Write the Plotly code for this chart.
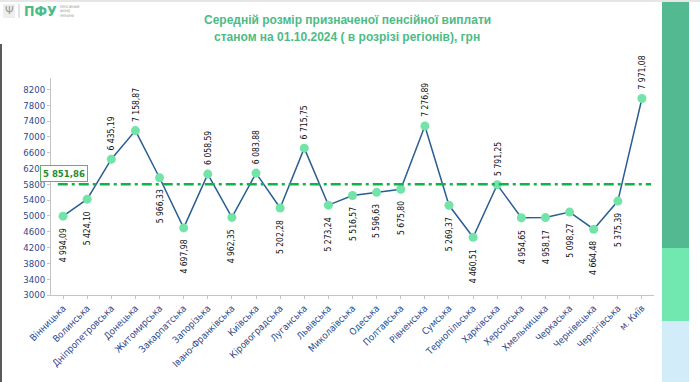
import plotly.graph_objects as go

# ---------------- data ----------------
regions = ["Вінницька", "Волинська", "Дніпропетровська", "Донецька", "Житомирська",
           "Закарпатська", "Запорізька", "Івано-Франківська", "Київська", "Кіровоградська",
           "Луганська", "Львівська", "Миколаївська", "Одеська", "Полтавська",
           "Рівненська", "Сумська", "Тернопільська", "Харківська", "Херсонська",
           "Хмельницька", "Черкаська", "Чернівецька", "Чернігівська", "м. Київ"]
pension = [4994.09, 5424.10, 6435.19, 7158.87, 5966.33,
           4697.98, 6058.59, 4962.35, 6083.88, 5202.28,
           6715.75, 5273.24, 5516.57, 5596.63, 5675.80,
           7276.89, 5269.37, 4460.51, 5791.25, 4954.65,
           4958.17, 5098.27, 4664.48, 5375.39, 7971.08]
# label placement as in the original: True = above the point
label_above = [False, False, True, True, False,
               False, True, False, True, False,
               True, False, False, False, False,
               True, False, False, True, False,
               False, False, False, False, True]
average_value = 5851.86      # value printed in the box
average_line_level = 5800    # level at which the dash-dot line is drawn in the picture
y_ticks = list(range(3000, 8201, 400))

title_lines = ["Середній розмір призначеної пенсійної виплати",
               "станом на 01.10.2024 ( в розрізі регіонів), грн"]
logo_small_lines = ["ПЕНСІЙНИЙ", "ФОНД", "УКРАЇНИ"]


def ua_num(v):
    s = f"{v:,.2f}"
    return s.replace(",", " ").replace(".", ",")


# ---------------- geometry helpers (pixel -> paper) ----------------
W, H = 700, 382
L, R, T, B = 51, 654, 78, 295


def px(x):
    return (x - L) / (R - L)


def py(y):
    return (B - y) / (B - T)


COND = "DejaVu Sans Condensed, Liberation Sans Narrow, Arial Narrow, Liberation Sans, Arial"

fig = go.Figure()
fig.add_trace(go.Scatter(
    x=list(range(len(regions))), y=pension, mode="lines+markers",
    line=dict(color="#2b5e94", width=1.5),
    marker=dict(size=9, color="#72e4a8", line=dict(width=0)),
    hoverinfo="skip", showlegend=False,
))

annotations = []
for i, (v, up) in enumerate(zip(pension, label_above)):
    annotations.append(dict(
        x=i, y=v, xref="x", yref="y", text=ua_num(v), showarrow=False,
        textangle=-90, font=dict(family=COND, size=8.5, color="#111111"),
        xanchor="center", yanchor="bottom" if up else "top",
        yshift=7 if up else -10,
    ))

# average label box
annotations.append(dict(
    x=px(64), y=py(173), xref="paper", yref="paper", text="<b>" + ua_num(average_value) + "</b>",
    showarrow=False, font=dict(family=COND, size=9.5, color="#1f8a33"),
    bgcolor="white", bordercolor="#5cb85c", borderwidth=1, borderpad=2,
    xanchor="center", yanchor="middle",
))

# title
for k, t in enumerate(title_lines):
    annotations.append(dict(
        x=px(347), y=py(20 + 17 * k), xref="paper", yref="paper", text="<b>" + t + "</b>",
        showarrow=False, font=dict(family="Liberation Sans, Arial", size=12, color="#4dbb85"),
        xanchor="center", yanchor="middle",
    ))

# logo
annotations.append(dict(x=px(22), y=py(11), xref="paper", yref="paper", text="<b>ПФУ</b>",
                        showarrow=False, font=dict(family=COND, size=14, color="#4cbb85"),
                        xanchor="left", yanchor="middle"))
annotations.append(dict(x=px(9), y=py(11), xref="paper", yref="paper", text="Ψ",
                        showarrow=False, font=dict(family="DejaVu Sans", size=11, color="#9a9a9a"),
                        xanchor="center", yanchor="middle"))
for k, t in enumerate(logo_small_lines):
    annotations.append(dict(x=px(58), y=py(6 + 5 * k), xref="paper", yref="paper", text=t,
                            showarrow=False, align="left",
                            font=dict(family=COND, size=3.5, color="#909090"),
                            xanchor="left", yanchor="middle"))

shapes = [
    # average dash-dot line
    dict(type="line", xref="x", yref="y", x0=-0.22, x1=24.38,
         y0=average_line_level, y1=average_line_level,
         line=dict(color="#0db44a", width=2.5, dash="10px,4px,3px,4px")),
    # right side decorative bars
    dict(type="rect", xref="paper", yref="paper", x0=px(662), x1=px(689), y0=py(248), y1=py(0),
         fillcolor="#52b991", line=dict(width=0), layer="below"),
    dict(type="rect", xref="paper", yref="paper", x0=px(662), x1=px(689), y0=py(321), y1=py(248),
         fillcolor="#72e8b1", line=dict(width=0), layer="below"),
    dict(type="rect", xref="paper", yref="paper", x0=px(662), x1=px(689), y0=py(382), y1=py(321),
         fillcolor="#d2edf9", line=dict(width=0), layer="below"),
    # left dark edge and top light edge
    dict(type="rect", xref="paper", yref="paper", x0=px(0), x1=px(2), y0=py(382), y1=py(44),
         fillcolor="#5a5a5a", line=dict(width=0), layer="below"),
    dict(type="rect", xref="paper", yref="paper", x0=px(0), x1=px(700), y0=py(2), y1=py(0),
         fillcolor="#e6e6e6", line=dict(width=0), layer="below"),
    # logo emblem box and separator
    dict(type="rect", xref="paper", yref="paper", x0=px(3), x1=px(15), y0=py(18), y1=py(4),
         fillcolor="#eeeeee", line=dict(width=0), layer="below"),
    dict(type="line", xref="paper", yref="paper", x0=px(19), x1=px(19), y0=py(18), y1=py(4),
         line=dict(color="#c8c8c8", width=1)),
]

fig.update_layout(
    width=W, height=H,
    margin=dict(l=L, r=W - R, t=T, b=H - B, pad=0),
    paper_bgcolor="white", plot_bgcolor="white",
    annotations=annotations, shapes=shapes,
    xaxis=dict(
        tickmode="array", tickvals=list(range(len(regions))), ticktext=regions,
        range=[-0.5, len(regions) - 0.5], tickangle=-45,
        tickfont=dict(family=COND, size=9.5, color="#2c4a8c"),
        showgrid=False, zeroline=False, showline=True, linecolor="#c4c4c4", linewidth=1,
        ticks="outside", ticklen=3, tickcolor="#c4c4c4",
        fixedrange=True,
    ),
    yaxis=dict(
        range=[3000, 8490], tickmode="array", tickvals=y_ticks,
        ticktext=[str(t) for t in y_ticks],
        tickfont=dict(family=COND, size=9.5, color="#2c4a8c"),
        showgrid=False, zeroline=False, showline=True, linecolor="#c4c4c4", linewidth=1,
        ticks="outside", ticklen=3, tickcolor="#c4c4c4",
        fixedrange=True,
    ),
)

fig.write_html("out.html", config={"displayModeBar": False},
               post_script="document.body.style.margin='0';")
